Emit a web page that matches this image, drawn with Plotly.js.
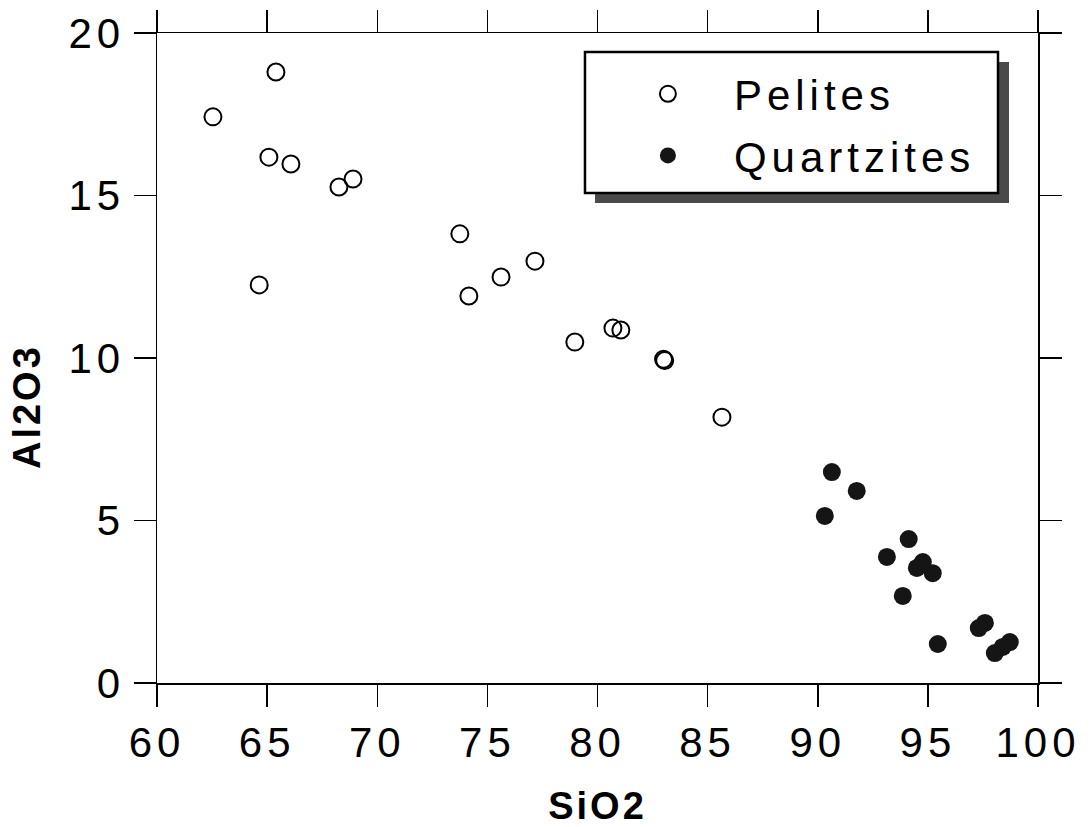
<!DOCTYPE html>
<html>
<head>
<meta charset="utf-8">
<script src="https://cdn.plot.ly/plotly-3.0.1.min.js"></script>
<style>
  html, body { margin: 0; padding: 0; background: #fff; }
  #chart { width: 1091px; height: 827px; }
  .xtick text, .ytick text { letter-spacing: 5px; }
  .legendtext { letter-spacing: 5px; }
  .xtitle, .annotation-text { letter-spacing: 3px; }
</style>
</head>
<body>
<div id="chart"></div>
<script>
// Pelites (open circles)
const pelitesSiO2 = [62.54, 65.40, 65.08, 66.08, 68.26, 68.90, 73.75, 64.64, 74.16, 75.62, 77.16, 78.97, 80.70, 81.06, 83.00, 83.05, 85.65];
const pelitesAl2O3 = [17.42, 18.80, 16.18, 15.97, 15.26, 15.51, 13.82, 12.25, 11.91, 12.49, 12.98, 10.49, 10.92, 10.86, 9.96, 9.92, 8.18];

// Quartzites (filled circles)
const quartzSiO2 = [90.64, 91.77, 90.32, 94.13, 93.14, 94.77, 94.50, 95.22, 93.86, 97.59, 97.31, 95.45, 98.72, 98.40, 98.04];
const quartzAl2O3 = [6.49, 5.91, 5.14, 4.43, 3.88, 3.72, 3.54, 3.38, 2.68, 1.85, 1.69, 1.20, 1.26, 1.11, 0.92];

const seriesNames = ['Pelites', 'Quartzites'];
const xTicks = [60, 65, 70, 75, 80, 85, 90, 95, 100];
const yTicks = [0, 5, 10, 15, 20];

const FONT = 'Liberation Sans, Arial, Helvetica, sans-serif';

const traces = [
  {
    x: pelitesSiO2, y: pelitesAl2O3, name: seriesNames[0],
    type: 'scatter', mode: 'markers', legendgroup: 'a',
    marker: { symbol: 'circle-open', size: 17, color: '#000', line: { width: 2, color: '#000' } }
  },
  {
    x: quartzSiO2, y: quartzAl2O3, name: seriesNames[1],
    type: 'scatter', mode: 'markers', legendgroup: 'b',
    marker: { symbol: 'circle', size: 18, color: '#151515', line: { width: 0 } }
  }
];

const axisCommon = {
  showline: true, linecolor: '#000', linewidth: 1.5,
  ticks: 'outside', ticklen: 22, tickwidth: 1.5, tickcolor: '#000',
  mirror: 'allticks', showgrid: false, zeroline: false,
  tickfont: { family: FONT, size: 42, color: '#000' }
};

const layout = {
  width: 1091, height: 827,
  paper_bgcolor: '#fff', plot_bgcolor: '#fff',
  margin: { l: 157, r: 53, t: 33, b: 144 },
  showlegend: true,
  xaxis: Object.assign({}, axisCommon, {
    range: [60, 100], tickvals: xTicks, ticktext: xTicks.map(String),
    title: { text: 'SiO2', font: { family: FONT, size: 38, color: '#000', weight: 'bold' }, standoff: 33 }
  }),
  yaxis: Object.assign({}, axisCommon, {
    range: [0, 20], tickvals: yTicks, ticktext: yTicks.map(String)
  }),
  legend: {
    x: 0.505, y: 0.9585, xanchor: 'left', yanchor: 'top',
    bgcolor: 'rgba(0,0,0,0)', borderwidth: 0,
    font: { family: FONT, size: 42, color: '#000' },
    traceorder: 'grouped', tracegroupgap: 4, itemwidth: 122
  },
  shapes: [
    { type: 'rect', xref: 'paper', yref: 'paper', x0: 0.4972, x1: 0.9671, y0: 0.7385, y1: 0.9554,
      fillcolor: '#4a4a4a', line: { width: 0 }, layer: 'above' },
    { type: 'rect', xref: 'paper', yref: 'paper', x0: 0.4858, x1: 0.9546, y0: 0.7538, y1: 0.9708,
      fillcolor: '#fff', line: { width: 2.5, color: '#000' }, layer: 'above' }
  ],
  annotations: [
    { text: '<b>Al2O3</b>', xref: 'paper', yref: 'paper', x: -0.1476, y: 0.426,
      textangle: -90, showarrow: false, xanchor: 'center', yanchor: 'middle',
      font: { family: FONT, size: 38, color: '#000' } }
  ]
};

Plotly.newPlot('chart', traces, layout, { displayModeBar: false, staticPlot: true });
</script>
</body>
</html>
